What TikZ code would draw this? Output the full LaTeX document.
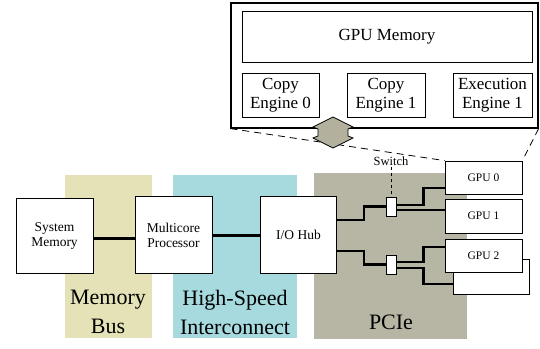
\documentclass[tikz,border=0pt]{standalone}
\usepackage{fontspec}
\setmainfont{Liberation Serif}
\usepackage{tikz}
\usetikzlibrary{positioning}

\definecolor{busyellow}{HTML}{E4E2B6}
\definecolor{linkcyan}{HTML}{A6DADF}
\definecolor{pcigray}{HTML}{B7B5A3}
\definecolor{hexgray}{HTML}{B3B19D}

\tikzset{
  unit/.style={draw, fill=white, line width=0.8pt, inner sep=1pt, align=center, font=\fontsize{13.5}{15}\selectfont},
  gpubox/.style={draw, fill=white, line width=0.8pt, inner sep=1pt, minimum width=77pt, font=\fontsize{11.5}{13}\selectfont},
  engine/.style={draw, fill=white, line width=0.8pt, inner sep=1pt, align=center, minimum height=44pt, font=\fontsize{17}{19}\selectfont},
  band/.style={font=\fontsize{22}{29}\selectfont, align=center},
  bus/.style={line width=3pt},
  pcilink/.style={line width=2.5pt}
}

\begin{document}
\begin{tikzpicture}[x=1pt, y=-1pt]
  \useasboundingbox (0,0) rectangle (540,348);
  % interconnect bands
  \fill[busyellow] (65,175) rectangle (152,338);
  \fill[linkcyan] (173,175) rectangle (297,338);
  \fill[pcigray] (314,173) rectangle (467,339);
  \node[band] (mb) at (108,312) {Memory\\Bus};
  \node[band] (hs) at (235,312) {High-Speed\\Interconnect};
  \node[band] (pc) at (391,322) {PCIe};

  % host side
  \node[unit, minimum width=77pt, minimum height=75pt] (sysmem) at (54.5,235.5) {System\\Memory};
  \node[unit, minimum width=77pt, minimum height=77pt] (cpu) at (173.5,235) {Multicore\\Processor};
  \node[unit, minimum width=76pt, minimum height=77pt] (hub) at (298.5,234.5) {I/O Hub};
  \draw[bus] ([yshift=-2.5pt]sysmem.east) -- ([yshift=-2.5pt]sysmem.east -| cpu.west);
  \draw[bus] (cpu.east) -- (cpu.east -| hub.west);

  % gpus
  \node[draw, fill=white, line width=0.8pt, minimum width=76pt, minimum height=35pt] (gpuback) at (491,276.5) {};
  \node[gpubox, minimum height=33pt] (gpu0) at (483.5,177.5) {GPU 0};
  \node[gpubox, minimum height=34pt] (gpu1) at (483.5,216) {GPU 1};
  \node[gpubox, minimum height=33pt] (gpu2) at (483.5,255.5) {GPU 2};

  % switches
  \node[draw, fill=white, line width=0.8pt, minimum width=10pt, minimum height=19pt, inner sep=0pt] (sw1) at (391,206.5) {};
  \node[draw, fill=white, line width=0.8pt, minimum width=10pt, minimum height=19pt, inner sep=0pt] (sw2) at (391,264.5) {};
  \node[font=\fontsize{12.5}{14}\selectfont, inner sep=1pt] (swlabel) at (391,161) {Switch};
  \draw[dashed, line width=0.7pt] (swlabel.south) -- (sw1.north);

  \draw[pcilink] ([yshift=14.5pt]hub.east) -- ++(27,0) |- (sw1.west);
  \draw[pcilink] ([yshift=-16.5pt]hub.east) -- ++(27,0) |- (sw2.west);
  \draw[pcilink] ([yshift=1.5pt]sw1.east) -- ++(27,0) |- ([yshift=-10.5pt]gpu0.west);
  \draw[pcilink] ([yshift=-3.5pt]sw1.east) -- ([yshift=-3.5pt]sw1.east -| gpu1.west);
  \draw[pcilink] ([yshift=2.5pt]sw2.east) -- ++(27,0) |- ([yshift=8.5pt]gpu2.west);
  \draw[pcilink] ([yshift=-3.5pt]sw2.east) -- ++(27,0) |- ([yshift=-7.5pt]gpuback.west);

  % zoomed gpu
  \node[draw, fill=white, line width=1.2pt, minimum width=307pt, minimum height=125pt] (gpuzoom) at (384.5,65.5) {};
  \node[draw, line width=0.8pt, minimum width=290pt, minimum height=51pt, font=\fontsize{17}{19}\selectfont] (gpumem) at (387,36.5) {GPU Memory};
  \node[engine, minimum width=77pt] (ce0) at (280.5,95) {Copy\\Engine 0};
  \node[engine, minimum width=78pt] (ce1) at (386,95) {Copy\\Engine 1};
  \node[engine, minimum width=79pt] (ee1) at (492.5,95) {Execution\\Engine 1};
  \draw[dashed, dash pattern=on 7pt off 5pt, line width=0.8pt] (gpuzoom.south west) -- (gpu0.north west);
  \draw[dashed, dash pattern=on 7pt off 5pt, line width=0.8pt] (gpuzoom.south east) -- (gpu0.north east);
  \draw[fill=hexgray, line width=0.8pt] (333,117) -- (353,127) -- (348,129) -- (348,136) -- (353,138)
    -- (333,148) -- (313,138) -- (318,136) -- (318,129) -- (313,127) -- cycle;
\end{tikzpicture}
\end{document}
